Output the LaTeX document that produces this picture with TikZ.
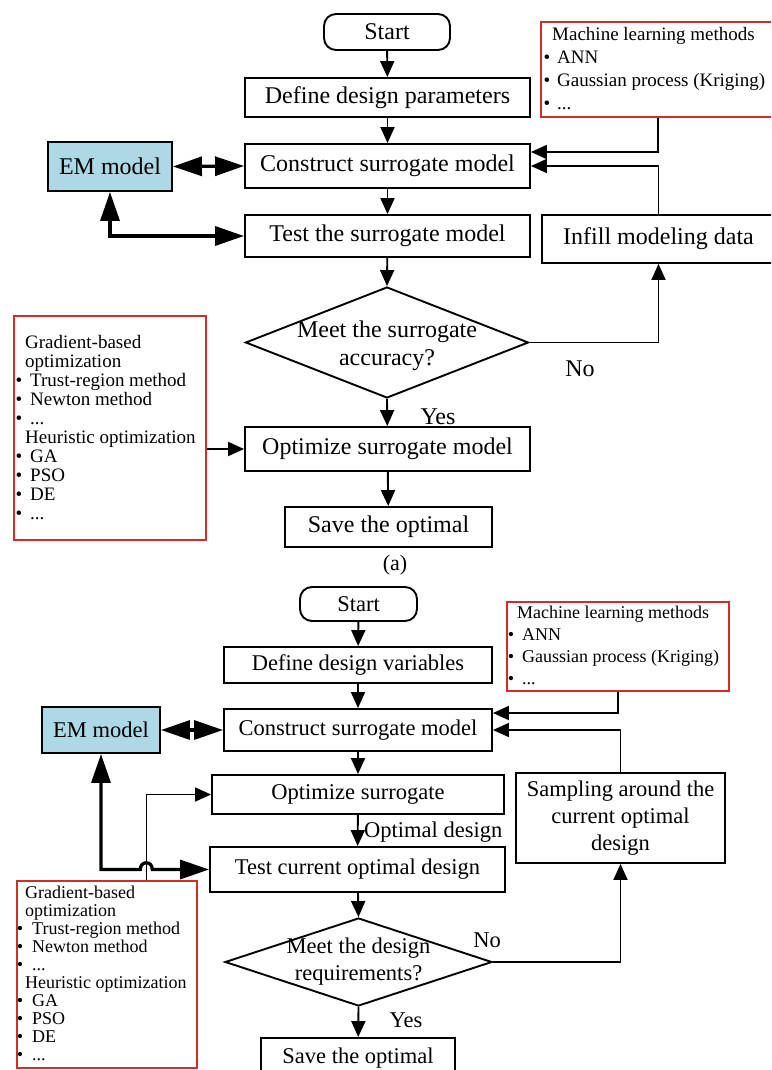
\documentclass[tikz,border=0pt]{standalone}
\usepackage{fontspec}
\setmainfont{Liberation Serif}
\usetikzlibrary{arrows.meta,shapes.geometric,calc}
\definecolor{emblue}{RGB}{173,216,230}
\definecolor{listred}{RGB}{210,45,45}
% bulleted line inside a method list: #1 indent, #2 gap after the bullet
\newcommand{\itm}[2]{\hspace*{#1}\llap{\textbullet\hspace{#2}}}
\begin{document}
\begin{tikzpicture}[x=1pt,y=-1pt,
  proc/.style={draw, line width=1.9pt, inner sep=0pt, align=center},
  topf/.style={font=\fontsize{24}{28}\selectfont},
  botf/.style={font=\fontsize{22.5}{27}\selectfont},
  term/.style={proc, rounded corners=12pt},
  emb/.style={proc, fill=emblue},
  listbox/.style={draw=listred, line width=1.4pt, inner sep=0pt},
  listtxt/.style={inner sep=0pt, align=left, anchor=north west},
  dec/.style={draw, line width=1.9pt, diamond, inner sep=0pt},
  flow/.style={line width=1.9pt, -{Triangle[length=16pt,width=14pt]}},
  thinflow/.style={line width=1.4pt, -{Triangle[length=16pt,width=14pt]}},
  thickflow/.style={line width=3.3pt, {Triangle[length=29pt,width=19pt]}-{Triangle[length=29pt,width=19pt]}},
  lbl/.style={inner sep=0pt}]
\clip (0,0) rectangle (771,1070);
\fill[white] (0,0) rectangle (771,1070);

% ---------------- (a) ----------------
\node[term, topf, minimum width=126, minimum height=36] (start1) at (387,32) {Start};
\node[proc, topf, minimum width=285, minimum height=39] (def1) at (387.5,97.5) {Define design parameters};
\node[proc, topf, minimum width=285, minimum height=44] (cons1) at (387.5,166) {Construct surrogate model};
\node[emb, topf, minimum width=124, minimum height=49] (em1) at (110,166.5) {EM model};
\node[proc, topf, minimum width=285, minimum height=42] (test1) at (387.5,236) {Test the surrogate model};
\node[proc, topf, minimum width=233, minimum height=48] (infill1) at (658.5,239) {Infill modeling data};
\node[dec, minimum width=283, minimum height=111,
      label={[topf, align=center, inner sep=0pt, yshift=-3pt]center:Meet the surrogate\\accuracy?}] (dec1) at (387,342.5) {};
\node[proc, topf, minimum width=285, minimum height=44] (opt1) at (387.5,449) {Optimize surrogate model};
\node[proc, topf, minimum width=207, minimum height=40] (save1) at (388.5,527) {Save the optimal};
\node[lbl, font=\fontsize{22}{26}\selectfont] (cap1) at (395,565) {(a)};

\node[listbox, minimum width=234, minimum height=95] (ml1) at (658,69.5) {};
\node[listtxt, font=\fontsize{19}{23}\selectfont] (ml1txt) at (552,25)
  {\rule{0pt}{15pt}Machine learning methods\\
   \itm{5pt}{7pt}ANN\\
   \itm{5pt}{7pt}Gaussian process (Kriging)\\
   \itm{5pt}{7pt}...};

\node[listbox, minimum width=192, minimum height=224] (list1) at (110,428) {};
\node[listtxt, font=\fontsize{19}{19}\selectfont] (list1txt) at (25,333)
  {\rule{0pt}{15pt}Gradient-based\\
   optimization\\
   \itm{5pt}{8pt}Trust-region method\\
   \itm{5pt}{8pt}Newton method\\
   \itm{5pt}{8pt}...\\
   Heuristic optimization\\
   \itm{5pt}{8pt}GA\\
   \itm{5pt}{8pt}PSO\\
   \itm{5pt}{8pt}DE\\
   \itm{5pt}{8pt}...};

\node[lbl, topf] (yes1) at (438,417) {Yes};
\node[lbl, topf] (no1) at (580,369) {No};

\draw[flow] (start1) -- (def1);
\draw[flow] (def1) -- (cons1);
\draw[flow] (cons1) -- (test1);
\draw[flow] (test1) -- (dec1.north);
\draw[flow] (dec1.south) -- (opt1);
\draw[flow] (opt1) -- (save1);
\draw[flow] (ml1.south) |- ([yshift=14pt]cons1.east);
\draw[flow] (infill1.north) |- (cons1.east);
\draw[flow] (dec1.east) -| (infill1.south);
\draw[thickflow] (em1.east) -- (cons1.west);
\draw[thickflow] (em1.south) |- (test1.west);
\draw[flow] (list1.east |- opt1.west) -- (opt1.west);

% ---------------- (b) ----------------
\node[term, botf, minimum width=117, minimum height=34] (start2) at (358.5,604) {Start};
\node[proc, botf, minimum width=268, minimum height=36] (def2) at (358,665) {Define design variables};
\node[proc, botf, minimum width=268, minimum height=42] (cons2) at (358,730) {Construct surrogate model};
\node[emb, botf, minimum width=118, minimum height=46] (em2) at (101,730) {EM model};
\node[proc, botf, minimum width=292, minimum height=39] (opt2) at (358,794.5) {Optimize surrogate};
\node[proc, botf, minimum width=209, minimum height=90] (samp) at (620.5,818) {Sampling around the\\current optimal\\design};
\node[proc, botf, minimum width=295, minimum height=45] (test2) at (357.5,869.5) {Test current optimal design};
\node[dec, minimum width=267, minimum height=88,
      label={[botf, align=center, inner sep=0pt]center:Meet the design\\requirements?}] (dec2) at (358.5,962) {};
\node[proc, botf, minimum width=194, minimum height=40] (save2) at (358,1058) {Save the optimal};

\node[listbox, minimum width=222, minimum height=89] (ml2) at (618,646.5) {};
\node[listtxt, font=\fontsize{18}{22}\selectfont] (ml2txt) at (517,603)
  {\rule{0pt}{15pt}Machine learning methods\\
   \itm{5pt}{8pt}ANN\\
   \itm{5pt}{8pt}Gaussian process (Kriging)\\
   \itm{5pt}{8pt}...};

\node[listbox, minimum width=180, minimum height=187] (list2) at (107,974.5) {};
\node[listtxt, font=\fontsize{18}{18}\selectfont] (list2txt) at (25,883)
  {\rule{0pt}{15pt}Gradient-based\\
   optimization\\
   \itm{7pt}{9pt}Trust-region method\\
   \itm{7pt}{9pt}Newton method\\
   \itm{7pt}{9pt}...\\
   Heuristic optimization\\
   \itm{7pt}{9pt}GA\\
   \itm{7pt}{9pt}PSO\\
   \itm{7pt}{9pt}DE\\
   \itm{7pt}{9pt}...};

\node[lbl, botf, anchor=west] (optlbl) at (364,832) {Optimal design};
\node[lbl, botf] (no2) at (487,940) {No};
\node[lbl, botf] (yes2) at (406,1020) {Yes};

\coordinate (tap) at ([xshift=130pt]list2.north west);

\draw[flow] (start2) -- (def2);
\draw[flow] (def2) -- (cons2);
\draw[flow] (cons2) -- (opt2);
\draw[flow] (opt2) -- (test2);
\draw[flow] (test2) -- (dec2.north);
\draw[flow] (dec2.south) -- (save2);
\draw[flow] (ml2.south) |- ([yshift=17pt]cons2.east);
\draw[flow] (samp.north) |- (cons2.east);
\draw[flow] (dec2.east) -| (samp.south);
\draw[thickflow] (em2.east) -- (cons2.west);
\draw[thinflow] (tap) |- (opt2.west);
\draw[thickflow] (em2.south) |- ($(tap |- test2.west)+(-6,0)$)
  .. controls +(0,-9) and +(0,-9) .. ($(tap |- test2.west)+(6,0)$) -- (test2.west);
\end{tikzpicture}
\end{document}
